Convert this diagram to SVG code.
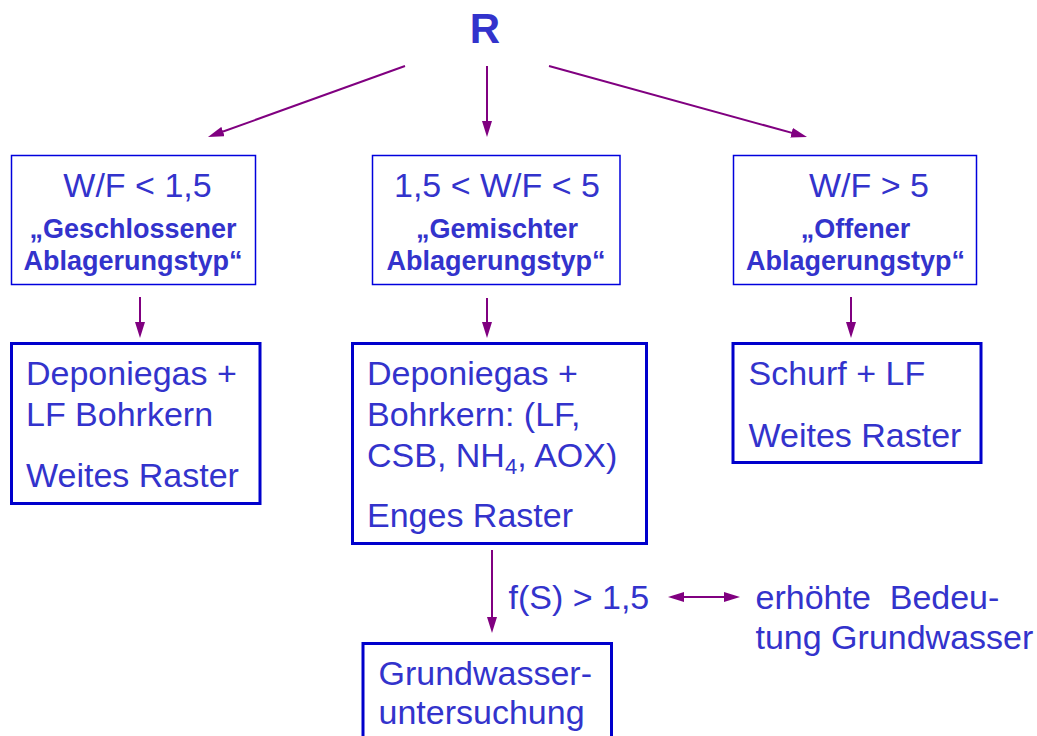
<svg xmlns="http://www.w3.org/2000/svg" width="1037" height="736" viewBox="0 0 1037 736">
<style>
.t{font-family:"Liberation Sans",Arial,sans-serif;fill:#3333CC;font-size:34px}
.b{font-family:"Liberation Sans",Arial,sans-serif;fill:#3333CC;font-size:27px;font-weight:bold}
.c{text-anchor:middle}
.thin{fill:#fff;stroke:#0000DD;stroke-width:1.5}
.thick{fill:#fff;stroke:#0000CC;stroke-width:3}
.ar{stroke:#800080;stroke-width:2;fill:none}
</style>
<defs>
<marker id="ah" markerUnits="userSpaceOnUse" markerWidth="16" markerHeight="10" refX="8" refY="5" orient="auto-start-reverse">
<path d="M0,0 L16,5 L0,10 z" fill="#800080"/>
</marker>
</defs>
<rect width="1037" height="736" fill="#fff"/>
<g id="root"><text class="b c" x="485" y="43" style="font-size:42px">R</text></g>
<g id="connectors">
<line class="ar" x1="405" y1="66" x2="215.5" y2="134.3" marker-end="url(#ah)"/>
<line class="ar" x1="487" y1="66" x2="487" y2="129" marker-end="url(#ah)"/>
<line class="ar" x1="549" y1="66" x2="799.3" y2="134.9" marker-end="url(#ah)"/>
<line class="ar" x1="140" y1="297" x2="140" y2="330" marker-end="url(#ah)"/>
<line class="ar" x1="487" y1="298" x2="487" y2="330" marker-end="url(#ah)"/>
<line class="ar" x1="851" y1="297" x2="851" y2="330" marker-end="url(#ah)"/>
<line class="ar" x1="492" y1="550" x2="492" y2="625" marker-end="url(#ah)"/>
<line class="ar" x1="676" y1="597" x2="732" y2="597" marker-start="url(#ah)" marker-end="url(#ah)"/>
</g>
<g id="n1">
<rect class="thin" x="11.5" y="155.5" width="244" height="129"/>
<text class="t c" x="137.5" y="197">W/F &lt; 1,5</text>
<text class="b c" x="133" y="238">„Geschlossener</text>
<text class="b c" x="133" y="269.5">Ablagerungstyp“</text>
</g>
<g id="n2">
<rect class="thin" x="372.5" y="155.5" width="247.5" height="129"/>
<text class="t c" x="497" y="197">1,5 &lt; W/F &lt; 5</text>
<text class="b c" x="497" y="238">„Gemischter</text>
<text class="b c" x="496" y="269.5">Ablagerungstyp“</text>
</g>
<g id="n3">
<rect class="thin" x="733.5" y="155.5" width="243" height="129"/>
<text class="t c" x="869" y="197">W/F &gt; 5</text>
<text class="b c" x="855.5" y="238">„Offener</text>
<text class="b c" x="855.5" y="269.5">Ablagerungstyp“</text>
</g>
<g id="n4">
<rect class="thick" x="11.5" y="343.5" width="248.5" height="160"/>
<text class="t" x="26" y="385">Deponiegas +</text>
<text class="t" x="26" y="426">LF Bohrkern</text>
<text class="t" x="26" y="487">Weites Raster</text>
</g>
<g id="n5">
<rect class="thick" x="352.5" y="343.5" width="294" height="200"/>
<text class="t" x="367" y="385">Deponiegas +</text>
<text class="t" x="367" y="426">Bohrkern: (LF,</text>
<text class="t" x="367" y="467">CSB, NH<tspan dy="7" style="font-size:22px">4</tspan><tspan dy="-7">, AOX)</tspan></text>
<text class="t" x="367" y="527">Enges Raster</text>
</g>
<g id="n6">
<rect class="thick" x="733" y="343.5" width="248" height="119"/>
<text class="t" x="748.5" y="385">Schurf + LF</text>
<text class="t" x="748.5" y="447">Weites Raster</text>
</g>
<g id="n7">
<rect class="thick" x="363" y="643.5" width="248.5" height="100"/>
<text class="t" x="378.5" y="685">Grundwasser-</text>
<text class="t" x="378.5" y="724">untersuchung</text>
</g>
<g id="labels">
<text class="t" x="508.5" y="608.5">f(S) &gt; 1,5</text>
<text class="t" x="755.5" y="608.5" xml:space="preserve">erhöhte  Bedeu-</text>
<text class="t" x="755.5" y="649">tung Grundwasser</text>
</g>
</svg>
